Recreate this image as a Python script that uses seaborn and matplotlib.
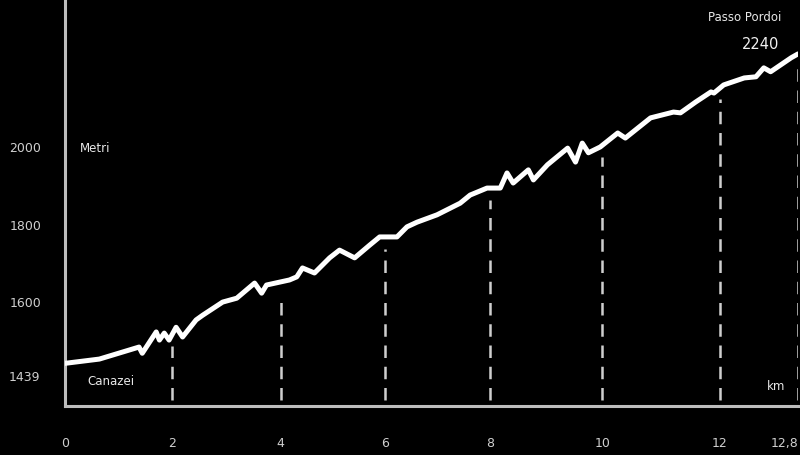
import numpy as np
import pandas as pd
import matplotlib
matplotlib.use("Agg")
import matplotlib.pyplot as plt
import seaborn as sns

# profilo altimetrico Canazei -> Passo Pordoi
km = [0.0, 0.64, 1.38, 1.44, 1.70, 1.76, 1.85, 1.94, 2.07, 2.19, 2.44, 2.56,
      2.93, 3.19, 3.52, 3.65, 3.74, 4.17, 4.31, 4.42, 4.65, 4.94, 5.13, 5.42,
      5.71, 5.90, 6.23, 6.42, 6.61, 6.99, 7.43, 7.62, 7.94, 8.18, 8.30, 8.41,
      8.68, 8.77, 9.02, 9.38, 9.52, 9.64, 9.75, 9.96, 10.26, 10.39, 10.82,
      11.21, 11.33, 11.59, 11.85, 11.90, 12.04, 12.25, 12.37, 12.45, 12.52,
      12.73, 12.8]
quota = [1442, 1453, 1484, 1468, 1523, 1502, 1520, 1502, 1535, 1510, 1554, 1566,
         1600, 1610, 1649, 1623, 1644, 1657, 1665, 1688, 1675, 1714, 1734, 1714,
         1747, 1768, 1768, 1794, 1806, 1825, 1855, 1876, 1894, 1894, 1933, 1907,
         1941, 1915, 1954, 1997, 1961, 2010, 1985, 2000, 2036, 2023, 2075,
         2090, 2088, 2116, 2142, 2139, 2160, 2178, 2181, 2204, 2194,
         2230, 2240]

xticks = [0, 2, 4, 6, 8, 10, 12, 12.8]
xtick_labels = ["0", "2", "4", "6", "8", "10", "12", "12,8"]
yticks = [1600, 1800, 2000]
start_label = "1439"
start_name = "Canazei"
end_name = "Passo Pordoi"
end_label = "2240"

# the km axis of the original is not evenly spaced
scale_km = [0, 2, 4, 6, 8, 10, 12, 12.8]
scale_pos = [0, 107, 215, 319, 424, 536, 653, 731]

def fwd(v):
    return np.interp(v, scale_km, scale_pos)

def inv(v):
    return np.interp(v, scale_pos, scale_km)

df = pd.DataFrame({"km": km, "quota": quota})

sns.set_theme(style="dark")
plt.rcParams["font.family"] = ["DejaVu Sans"]

fig = plt.figure(figsize=(8, 4.55), dpi=100, facecolor="black")
ax = fig.add_axes([65 / 800, 49 / 455, 733 / 800, 406 / 455])
ax.set_facecolor("black")
ax.set_xscale("function", functions=(fwd, inv))

light = "#cfcfcf"

# dashed markers at each tick up to the profile
tops = np.interp(xticks[1:], km, quota) - 30
ax.vlines(xticks[1:], 1347, tops, colors=light, linewidth=1.8,
          linestyles=(0, (5, 3.5)), zorder=1)

sns.lineplot(data=df, x="km", y="quota", ax=ax, color="white",
             linewidth=3.6, zorder=3)

ax.set_xlim(0, 12.8)
ax.set_ylim(1332, 2379)
ax.set_xticks(xticks)
ax.set_xticklabels(xtick_labels)
ax.set_yticks(yticks)
ax.set_xlabel("")
ax.set_ylabel("")
ax.grid(False)
ax.tick_params(axis="both", length=0, colors=light, labelsize=9)
ax.tick_params(axis="x", pad=22)
ax.tick_params(axis="y", pad=17)
ax.get_xticklabels()[-1].set_horizontalalignment("right")

for s in ["top", "right"]:
    ax.spines[s].set_visible(False)
for s in ["left", "bottom"]:
    ax.spines[s].set_visible(True)
    ax.spines[s].set_color("#bdbdbd")
    ax.spines[s].set_linewidth(2.2)

ax.text(-0.034, 1406, start_label, transform=ax.get_yaxis_transform(),
        ha="right", va="center", color=light, fontsize=9)
ax.text(0.02, 1997, "Metri", transform=ax.get_yaxis_transform(),
        ha="left", va="center", color="#e8e8e8", fontsize=8.5)
ax.text(0.03, 1396, start_name, transform=ax.get_yaxis_transform(),
        ha="left", va="center", color="#e8e8e8", fontsize=8.5)
ax.text(0.982, 1381, "km", transform=ax.get_yaxis_transform(),
        ha="right", va="center", color="#e8e8e8", fontsize=8.5)
ax.text(0.978, 2333, end_name, transform=ax.get_yaxis_transform(),
        ha="right", va="center", color="#e8e8e8", fontsize=8.5)
ax.text(0.975, 2263, end_label, transform=ax.get_yaxis_transform(),
        ha="right", va="center", color="#f0f0f0", fontsize=10.5)

fig.savefig("out.png", dpi=100, facecolor="black")
